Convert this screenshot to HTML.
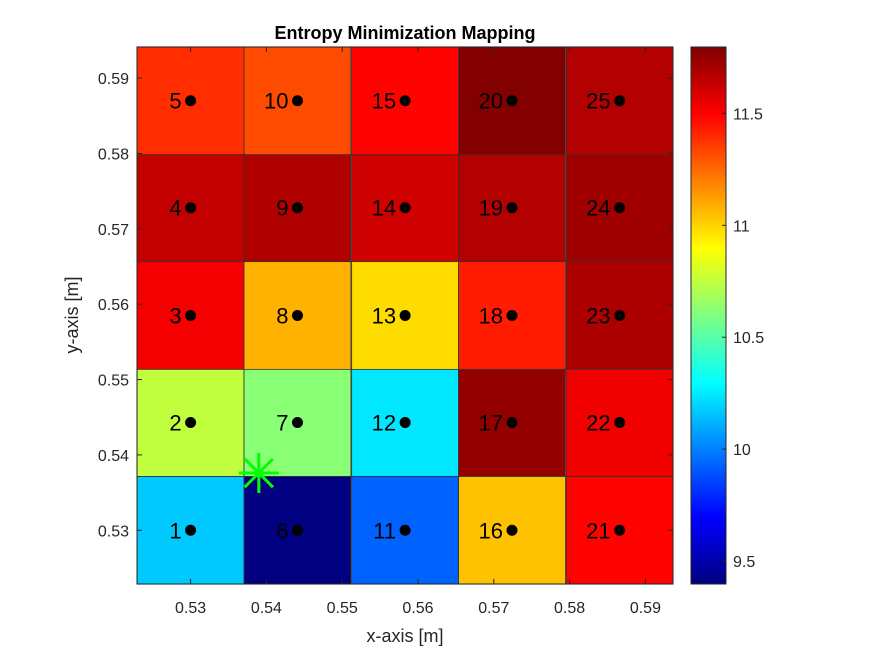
<!DOCTYPE html>
<html><head><meta charset="utf-8"><style>
body{margin:0;background:#fff}
svg{display:block;font-family:"Liberation Sans",Arial,sans-serif}
</style></head><body>
<svg id="chart" width="875" height="656">
<rect x="0" y="0" width="875" height="656" fill="#fff"/>
<defs><linearGradient id="jet" x1="0" y1="1" x2="0" y2="0">
<stop offset="0" stop-color="#000080"/><stop offset="0.125" stop-color="#0000ff"/>
<stop offset="0.375" stop-color="#00ffff"/><stop offset="0.625" stop-color="#ffff00"/>
<stop offset="0.875" stop-color="#ff0000"/><stop offset="1" stop-color="#800000"/>
</linearGradient></defs>
<g id="cells"></g><g id="axes"></g><g id="cbar"></g>
</svg>
<script>
const xCenters=[0.53,0.5441,0.5583,0.5724,0.5866];
const yCenters=[0.53,0.5443,0.5585,0.5728,0.587];
// values[col][row], row 0 = bottom
const values=[
 [10.17,10.75,11.52,11.64,11.39],
 [9.40,10.62,11.08,11.68,11.32],
 [9.93,10.24,10.98,11.61,11.49],
 [11.04,11.75,11.43,11.675,11.79],
 [11.49,11.53,11.69,11.72,11.675]];
const xTicks=[0.53,0.54,0.55,0.56,0.57,0.58,0.59];
const yTicks=[0.53,0.54,0.55,0.56,0.57,0.58,0.59];
const cTicks=[9.5,10,10.5,11,11.5];
const star=[0.5390,0.5376];
const cMin=9.397,cMax=11.797;
const X0=137,X1=673,Y0=584,Y1=47;
const xMin=0.52293,xMax=0.59364,yMin=0.52287,yMax=0.59413;
const sx=v=>X0+(v-xMin)/(xMax-xMin)*(X1-X0);
const sy=v=>Y0-(v-yMin)/(yMax-yMin)*(Y0-Y1);
const CB0=691,CB1=726;
const sc=v=>Y0-(v-cMin)/(cMax-cMin)*(Y0-Y1);
const NS='http://www.w3.org/2000/svg';
function mk(t,a,p){const e=document.createElementNS(NS,t);for(const k in a)e.setAttribute(k,a[k]);p.appendChild(e);return e;}
function jet(v){let t=(v-cMin)/(cMax-cMin);t=Math.max(0,Math.min(1,t));
 const r=Math.max(0,Math.min(1,1.5-Math.abs(4*t-3))),g=Math.max(0,Math.min(1,1.5-Math.abs(4*t-2))),b=Math.max(0,Math.min(1,1.5-Math.abs(4*t-1)));
 return `rgb(${Math.round(r*255)},${Math.round(g*255)},${Math.round(b*255)})`;}
const cells=document.getElementById('cells'),axes=document.getElementById('axes'),cb=document.getElementById('cbar');
const dx=(xCenters[1]-xCenters[0])/2,dy=(yCenters[1]-yCenters[0])/2;
for(let i=0;i<xCenters.length;i++)for(let j=0;j<yCenters.length;j++){
 const x=sx(xCenters[i]-dx),x2=sx(xCenters[i]+dx),y=sy(yCenters[j]+dy),y2=sy(yCenters[j]-dy);
 const r=mk('rect',{x:x,y:y,width:x2-x,height:y2-y,fill:jet(values[i][j]),stroke:'#333','stroke-width':0.8},cells);
 
 
 const cx=sx(xCenters[i]),cy=sy(yCenters[j]);
 const d=mk('circle',{cx:cx,cy:cy,r:5.5,fill:'#000'},cells);
 
 
 const t=mk('text',{x:cx-9,y:cy+8,'text-anchor':'end','font-size':22,fill:'#000'},cells);
 t.textContent=(i*5+j+1);
 
 
}
const s=document.createElementNS(NS,'g');cells.appendChild(s);
const scx=sx(star[0]),scy=sy(star[1]);
for(let a=0;a<4;a++){const ang=a*Math.PI/4;mk('line',{x1:scx-20*Math.cos(ang),y1:scy-20*Math.sin(ang),x2:scx+20*Math.cos(ang),y2:scy+20*Math.sin(ang),stroke:'#00ff00','stroke-width':3},s);}
const box=mk('rect',{x:X0,y:Y1,width:X1-X0,height:Y0-Y1,fill:'none',stroke:'#262626','stroke-width':1},axes);

xTicks.forEach(v=>{const x=sx(v);mk('line',{x1:x,y1:Y0,x2:x,y2:Y0-5,stroke:'#262626'},axes);mk('line',{x1:x,y1:Y1,x2:x,y2:Y1+5,stroke:'#262626'},axes);
 const t=mk('text',{x:x,y:613,'text-anchor':'middle','font-size':16,fill:'#262626'},axes);t.textContent=v.toFixed(2);
 });
yTicks.forEach(v=>{const y=sy(v);mk('line',{x1:X0,y1:y,x2:X0+5,y2:y,stroke:'#262626'},axes);mk('line',{x1:X1,y1:y,x2:X1-5,y2:y,stroke:'#262626'},axes);
 const t=mk('text',{x:129,y:y+6,'text-anchor':'end','font-size':16,fill:'#262626'},axes);t.textContent=v.toFixed(2);
 });
let t=mk('text',{x:(X0+X1)/2,y:642,'text-anchor':'middle','font-size':18,fill:'#262626'},axes);t.textContent='x-axis [m]';

t=mk('text',{x:0,y:0,transform:'translate(78,315) rotate(-90)','text-anchor':'middle','font-size':18,fill:'#262626'},axes);t.textContent='y-axis [m]';

t=mk('text',{x:(X0+X1)/2,y:39,'text-anchor':'middle','font-size':18,'font-weight':'bold',fill:'#000'},axes);t.textContent='Entropy Minimization Mapping';

const cr=mk('rect',{x:CB0,y:Y1,width:CB1-CB0,height:Y0-Y1,fill:'url(#jet)',stroke:'#262626','stroke-width':1},cb);

cTicks.forEach(v=>{const y=sc(v);mk('line',{x1:CB1,y1:y,x2:CB1-4,y2:y,stroke:'#262626'},cb);
 const tt=mk('text',{x:CB1+7,y:y+6,'font-size':16,fill:'#262626'},cb);tt.textContent=String(v);
 });
</script>
</body></html>
